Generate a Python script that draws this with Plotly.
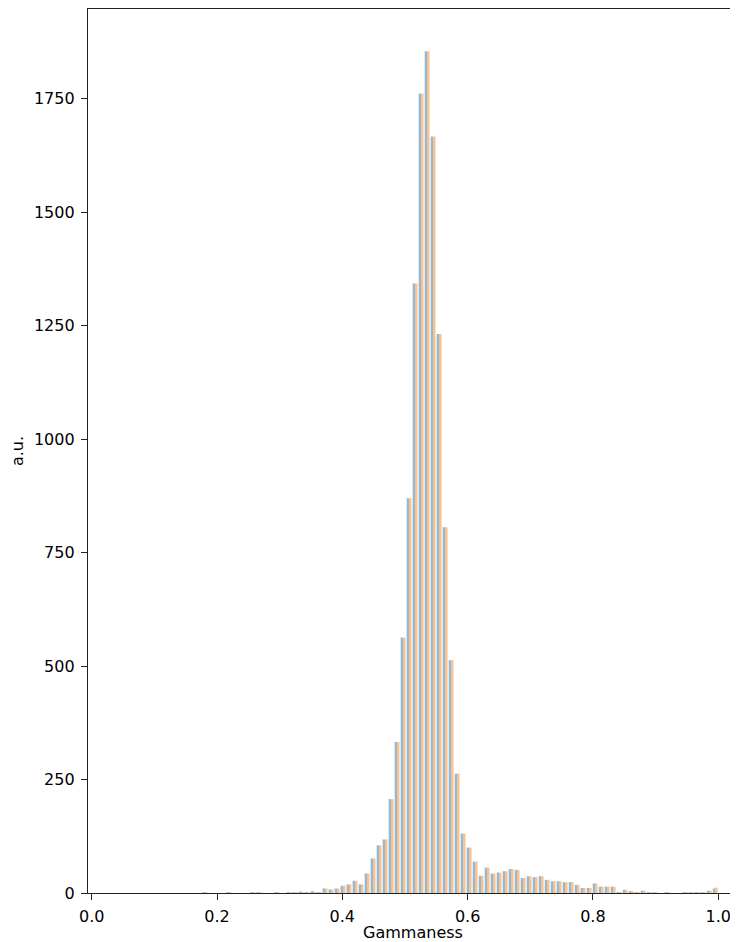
import numpy as np
import plotly.graph_objects as go

# Histogram binning (100 bins over the data range)
bin_lo = 0.0419
bin_hi = 1.0
n_bins = 100

# Counts per bin (bin 0 .. bin 99)
counts_blue = [
    0, 0, 0, 0, 0, 0, 0, 0, 0, 0,
    0, 0, 0, 0, 2, 0, 0, 0, 2, 0,
    0, 0, 2, 2, 0, 0, 2, 0, 2, 2,
    3, 2, 4, 2, 10, 8, 10, 16, 19, 27,
    19, 43, 76, 105, 118, 207, 333, 563, 870, 1343,
    1762, 1855, 1667, 1232, 806, 513, 263, 131, 100, 69,
    38, 56, 43, 45, 48, 53, 51, 33, 37, 35,
    37, 29, 26, 26, 24, 24, 18, 11, 11, 21,
    14, 14, 14, 2, 7, 4, 2, 5, 2, 2,
    0, 2, 0, 0, 2, 2, 2, 2, 5, 10,
]
counts_orange = [
    0, 0, 0, 0, 0, 0, 0, 0, 0, 0,
    0, 0, 0, 0, 2, 0, 0, 0, 2, 0,
    0, 0, 2, 2, 0, 0, 2, 0, 2, 2,
    3, 2, 4, 2, 10, 8, 10, 16, 19, 27,
    19, 43, 76, 105, 118, 207, 333, 563, 870, 1343,
    1762, 1855, 1667, 1232, 806, 513, 263, 131, 100, 69,
    38, 56, 43, 45, 48, 53, 51, 33, 37, 35,
    37, 29, 26, 26, 24, 24, 18, 11, 11, 21,
    14, 14, 14, 2, 7, 4, 2, 5, 2, 2,
    0, 2, 0, 0, 2, 2, 2, 2, 5, 12,
]

x_ticks = [0.0, 0.2, 0.4, 0.6, 0.8, 1.0]
x_tick_labels = ["0.0", "0.2", "0.4", "0.6", "0.8", "1.0"]
y_ticks = [0, 250, 500, 750, 1000, 1250, 1500, 1750]
y_tick_labels = ["0", "250", "500", "750", "1000", "1250", "1500", "1750"]

edges = np.linspace(bin_lo, bin_hi, n_bins + 1)
centers = (edges[:-1] + edges[1:]) / 2

fig = go.Figure()
fig.add_bar(x=centers, y=counts_blue, marker=dict(color="rgba(31,119,180,0.5)", line=dict(width=0)))
fig.add_bar(x=centers, y=counts_orange, marker=dict(color="rgba(255,127,14,0.5)", line=dict(width=0)))

axis_col = "#222222"
# The page body has an 8px default margin, so the figure is 8px smaller
fig.update_layout(
    barmode="group", bargap=0.2, bargroupgap=0,
    width=730, height=934,
    margin=dict(l=80, r=0, t=1, b=49),
    plot_bgcolor="white", paper_bgcolor="white",
    showlegend=False,
    font=dict(family="DejaVu Sans", size=16, color="#000000"),
)
fig.update_xaxes(
    range=[-0.0059, 1.0316],
    tickvals=x_ticks, ticktext=x_tick_labels,
    ticks="outside", ticklen=6, tickwidth=1.3, tickcolor=axis_col,
    ticklabelstandoff=3,
    showline=True, linecolor=axis_col, linewidth=1.3, mirror=True,
    showgrid=False, zeroline=False,
    title=dict(text="Gammaness", standoff=1, font=dict(size=16)),
)
fig.update_yaxes(
    range=[0, 1948],
    tickvals=y_ticks, ticktext=y_tick_labels,
    ticks="outside", ticklen=6, tickwidth=1.3, tickcolor=axis_col,
    ticklabelstandoff=3,
    showline=True, linecolor=axis_col, linewidth=1.3, mirror=False,
    showgrid=False, zeroline=False,
    title=dict(text="a.u.", standoff=8, font=dict(size=16)),
)

fig.write_html("out.html")
